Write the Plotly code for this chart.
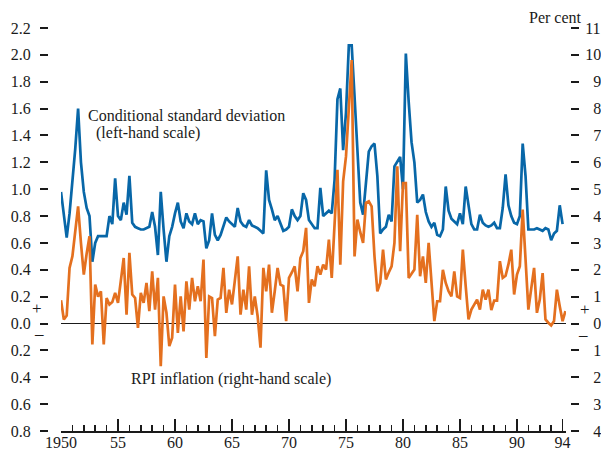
import plotly.graph_objects as go

# ---- data (quarterly, 1950Q1 .. 1994Q2) ----
start_year = 1950
n_quarters = 178

# Conditional standard deviation (left-hand scale)
cond_sd = [
    0.98, 0.82, 0.64, 0.82, 1.05, 1.30, 1.60, 1.20, 0.98, 0.86,
    0.80, 0.46, 0.60, 0.65, 0.65, 0.65, 0.65, 0.80, 0.74, 1.08,
    0.80, 0.77, 0.90, 0.81, 1.10, 0.75, 0.72, 0.71, 0.70, 0.70,
    0.71, 0.72, 0.83, 0.72, 0.51, 0.98, 0.70, 0.46, 0.65, 0.72,
    0.82, 0.90, 0.76, 0.71, 0.82, 0.76, 0.74, 0.82, 0.74, 0.77,
    0.76, 0.56, 0.62, 0.82, 0.66, 0.62, 0.66, 0.72, 0.79, 0.76,
    0.74, 0.72, 0.86, 0.76, 0.73, 0.72, 0.77, 0.73, 0.72, 0.71,
    0.69, 0.67, 1.14, 0.92, 0.85, 0.77, 0.80, 0.75, 0.69, 0.70,
    0.72, 0.85, 0.80, 0.77, 0.80, 0.97, 0.92, 0.77, 0.74, 0.71,
    0.71, 1.01, 0.80, 0.82, 0.84, 0.82, 1.07, 1.67, 1.75, 1.29,
    1.57, 2.07, 2.07, 1.69, 1.32, 0.90, 0.81, 1.02, 1.28, 1.32,
    1.34, 1.10, 0.67, 0.70, 0.72, 0.81, 0.76, 1.17, 1.21, 1.24,
    1.00, 2.01, 1.65, 1.35, 1.20, 0.90, 0.92, 0.96, 0.83, 0.76,
    0.72, 0.75, 0.66, 0.65, 0.70, 1.02, 0.84, 0.78, 0.76, 0.74,
    0.82, 0.74, 1.02, 0.86, 0.74, 0.70, 0.70, 0.81, 0.75, 0.73,
    0.72, 0.73, 0.75, 0.71, 0.71, 0.86, 1.11, 0.88, 0.80, 0.75,
    0.74, 0.80, 1.34, 1.10, 0.70, 0.70, 0.70, 0.71, 0.70, 0.69,
    0.71, 0.70, 0.62, 0.67, 0.69, 0.88, 0.74, None,
]

# RPI inflation, per cent (right-hand scale)
rpi_inflation = [
    0.87, 0.15, 0.30, 2.07, 2.50, 3.40, 4.36, 3.00, 1.82, 2.60,
    3.25, -0.78, 1.45, 1.00, 1.20, -0.78, 0.95, 0.71, 0.80, 1.14,
    0.77, 1.60, 2.44, 0.33, 2.63, 1.08, 0.95, -0.16, 1.14, 0.77,
    1.51, 0.46, 1.94, 0.52, 1.70, -1.59, 1.01, 0.40, -0.84, -0.53,
    1.45, -0.35, 1.01, -0.29, 1.57, 0.52, 1.70, 0.83, 1.39, 0.83,
    2.38, -1.28, 1.01, 0.95, -0.47, 0.89, 0.95, 2.07, 0.40, 1.26,
    0.71, 1.60, 2.50, 0.33, 1.26, 0.52, 2.13, 0.33, 1.01, 0.27,
    -0.90, 2.07, 1.20, 2.19, 0.40, 1.20, 2.07, 1.45, 1.39, 0.09,
    1.70, 1.90, 2.13, 1.20, 2.44, 2.69, 3.56, 0.77, 1.64, 1.39,
    2.13, 1.82, 2.19, 2.01, 3.12, 1.70, 3.50, 5.72, 2.19, 5.29,
    6.22, 7.90, 9.81, 2.50, 3.87, 3.40, 3.00, 4.49, 4.55, 4.36,
    2.50, 1.20, 1.51, 2.75, 1.64, 1.90, 2.13, 3.00, 5.85, 2.69,
    5.23, 5.23, 1.70, 1.85, 2.01, 4.05, 1.76, 2.50, 1.51, 3.00,
    1.60, 0.09, 0.83, 0.83, 2.00, 1.51, 1.20, 1.01, 1.94, 1.01,
    0.95, 2.75, 1.40, 0.15, 0.52, 0.71, 0.89, 0.52, 1.26, 0.89,
    1.26, 0.50, 0.85, 0.85, 2.32, 1.70, 1.78, 2.20, 2.75, 1.08,
    1.82, 2.13, 4.24, 2.40, 0.52, 1.30, 2.07, 0.40, 0.89, 1.88,
    0.15, 0.03, -0.07, 0.09, 1.26, 0.64, 0.09, 0.46,
]

x_tickvals = [1950, 1955, 1960, 1965, 1970, 1975, 1980, 1985, 1990, 1994]
x_ticktext = ["1950", "55", "60", "65", "70", "75", "80", "85", "90", "94"]

left_tickvals = [-0.8, -0.6, -0.4, -0.2, 0.0, 0.2, 0.4, 0.6, 0.8, 1.0,
                 1.2, 1.4, 1.6, 1.8, 2.0, 2.2]
left_ticktext = ["0.8", "0.6", "0.4", "0.2", "0.0", "0.2", "0.4", "0.6", "0.8",
                 "1.0", "1.2", "1.4", "1.6", "1.8", "2.0", "2.2"]
right_tickvals = list(range(-4, 12))
right_ticktext = ["4", "3", "2", "1", "0", "1", "2", "3", "4", "5", "6", "7",
                  "8", "9", "10", "11"]

# right-hand labels are right-aligned in the original: pad single digits
right_ticktext_aligned = [t if len(t) > 1 else "\u2002" + t for t in right_ticktext]

# decimal-year position of each quarter
quarter_x = [start_year + q / 4 for q in range(n_quarters)]

BLUE = "#0867a8"
ORANGE = "#e4701f"
FONT = "Liberation Serif"
INK = "#1a1a1a"

fig = go.Figure()
fig.add_trace(go.Scatter(
    x=quarter_x, y=rpi_inflation, yaxis="y2", mode="lines",
    line=dict(color=ORANGE, width=2.7), showlegend=False, hoverinfo="skip"))
fig.add_trace(go.Scatter(
    x=quarter_x[:len(cond_sd)], y=cond_sd, yaxis="y", mode="lines",
    line=dict(color=BLUE, width=2.7), showlegend=False, hoverinfo="skip",
    connectgaps=False))

W, H = 601, 454
ML, MR, MT, MB = 20, 21, 28, 23
pw = W - ML - MR

def px(xpix):
    return (xpix - ML) / pw

fig.update_layout(
    width=W, height=H,
    margin=dict(l=ML, r=MR, t=MT, b=MB, pad=0),
    paper_bgcolor="white", plot_bgcolor="white",
    font=dict(family=FONT, size=16, color=INK),
    xaxis=dict(
        domain=[px(61), px(566)], range=[1950, 1994.3], automargin=False,
        tickvals=x_tickvals, ticktext=x_ticktext,
        ticks="inside", ticklen=12, tickwidth=1.5, tickcolor=INK,
        minor=dict(dtick=1, tick0=1950, ticks="inside", ticklen=6,
                   tickwidth=1.5, tickcolor=INK, showgrid=False),
        showline=True, linecolor=INK, linewidth=1.5,
        showgrid=False, zeroline=False,
        tickfont=dict(family=FONT, size=16, color=INK),
        ticklabelstandoff=-4,
    ),
    yaxis=dict(
        range=[-0.8, 2.2], anchor="free", position=px(48), automargin=False,
        tickvals=left_tickvals, ticktext=left_ticktext,
        ticks="outside", ticklen=8, tickwidth=2, tickcolor=INK,
        showline=False, showgrid=False,
        zeroline=True, zerolinecolor=INK, zerolinewidth=1.5,
        tickfont=dict(family=FONT, size=16, color=INK),
        ticklabelstandoff=6,
    ),
    yaxis2=dict(
        range=[-4, 11], overlaying="y", side="right", anchor="free",
        position=px(570), automargin=False,
        tickvals=right_tickvals, ticktext=right_ticktext_aligned,
        ticks="outside", ticklen=8, tickwidth=2, tickcolor=INK,
        showline=False, showgrid=False, zeroline=False,
        tickfont=dict(family=FONT, size=16, color=INK),
        ticklabelstandoff=3,
    ),
)

def ypix(ypx):
    return (324 - ypx) / 134.3

annos = [
    dict(text="Conditional standard deviation", x=1950 + (86 - 61) / 11.41, y=ypix(116),
         xref="x", yref="y", xanchor="left", yanchor="middle"),
    dict(text="(left-hand scale)", x=1950 + (94 - 61) / 11.41, y=ypix(134),
         xref="x", yref="y", xanchor="left", yanchor="middle"),
    dict(text="RPI inflation (right-hand scale)", x=1950 + (129 - 61) / 11.41, y=ypix(379),
         xref="x", yref="y", xanchor="left", yanchor="middle"),
    dict(text="Per cent", x=px(555), y=(431 - 17) / 403, xref="paper", yref="paper",
         xanchor="center", yanchor="middle"),
    dict(text="+", x=px(37), y=ypix(309), xref="paper", yref="y",
         xanchor="center", yanchor="middle", font=dict(size=17)),
    dict(text="\u2013", x=px(39), y=ypix(334), xref="paper", yref="y",
         xanchor="center", yanchor="middle", font=dict(size=17)),
    dict(text="+", x=px(585), y=ypix(310), xref="paper", yref="y",
         xanchor="center", yanchor="middle", font=dict(size=17)),
    dict(text="\u2013", x=px(583), y=ypix(335), xref="paper", yref="y",
         xanchor="center", yanchor="middle", font=dict(size=17)),
]
for a in annos:
    size = a.get("font", {}).get("size", 16)
    a["font"] = dict(family=FONT, size=size, color=INK)
    a["showarrow"] = False
fig.update_layout(annotations=annos)

fig.write_html("out.html",
               config={"displayModeBar": False, "staticPlot": True},
               post_script="document.body.style.margin='0';document.body.style.overflow='hidden';")
